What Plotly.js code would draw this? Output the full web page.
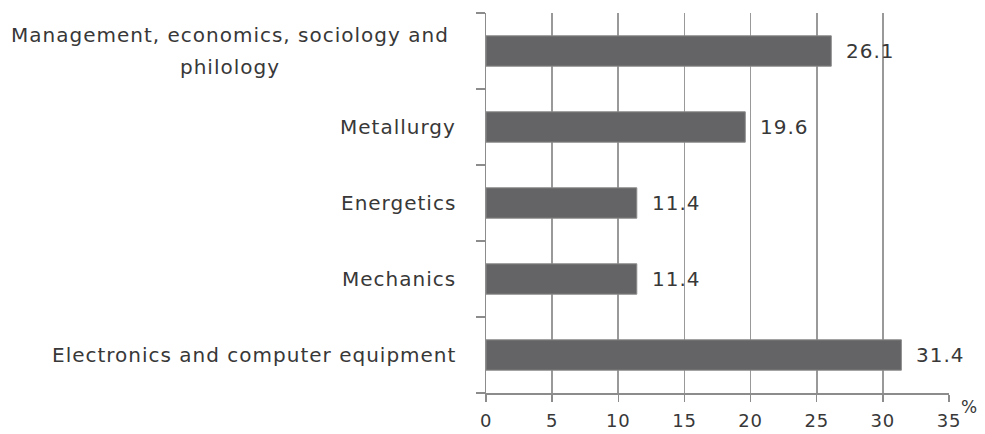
<!DOCTYPE html>
<html>
<head>
<meta charset="utf-8">
<script src="https://cdn.plot.ly/plotly-3.0.1.min.js"></script>
<style>
  html, body { margin: 0; padding: 0; background: #fff; }
  #chart { width: 985px; height: 434px; }
  .annotation-text { letter-spacing: 1px; }
  .xtick text { letter-spacing: 0.8px; }
</style>
</head>
<body>
<div id="chart"></div>
<script>
// Fields of study, listed top to bottom, with their shares in percent
const categories = [
  "Management, economics, sociology and<br>philology",
  "Metallurgy",
  "Energetics",
  "Mechanics",
  "Electronics and computer equipment"
];
const values = [26.1, 19.6, 11.4, 11.4, 31.4];
const xTicks = [0, 5, 10, 15, 20, 25, 30, 35];
const unitLabel = "%";

const textColor = "#383838";
const fontFamily = "DejaVu Sans, sans-serif";
const labelSize = 20;

const bar = {
  type: "bar",
  orientation: "h",
  y: categories.map((c, i) => i),
  x: values,
  width: 0.4,
  marker: { color: "#646466", line: { color: "#8c8c8c", width: 1 } },
  hoverinfo: "skip"
};

// Category names beside the axis; wrapped names get one centred row per line
const catLabels = [];
categories.forEach((c, i) => {
  const lines = c.split("<br>");
  if (lines.length === 1) {
    catLabels.push({
      xref: "paper", yref: "y", x: 0, y: i,
      xanchor: "right", yanchor: "middle", xshift: -28,
      text: c, showarrow: false,
      font: { family: fontFamily, size: labelSize, color: textColor }
    });
  } else {
    const step = 32;
    lines.forEach((ln, k) => {
      catLabels.push({
        xref: "paper", yref: "y", x: 0, y: i,
        xanchor: "center", yanchor: "middle",
        xshift: -256,
        yshift: ((lines.length - 1) / 2 - k) * step,
        text: ln, showarrow: false,
        font: { family: fontFamily, size: labelSize, color: textColor }
      });
    });
  }
});

// Value labels beside each bar
const valLabels = values.map((v, i) => ({
  xref: "x", yref: "y",
  x: v, y: i,
  xanchor: "left", yanchor: "middle",
  xshift: 13,
  text: v.toFixed(1),
  showarrow: false,
  font: { family: fontFamily, size: labelSize, color: textColor }
}));

const unitNote = {
  xref: "paper", yref: "paper",
  x: 1, y: 0,
  xanchor: "left", yanchor: "top",
  xshift: 10, yshift: -2,
  text: unitLabel,
  showarrow: false,
  font: { family: fontFamily, size: 17, color: textColor }
};

const layout = {
  width: 985, height: 434,
  margin: { l: 486, r: 36, t: 13, b: 41, pad: 0 },
  paper_bgcolor: "#ffffff",
  plot_bgcolor: "#ffffff",
  showlegend: false,
  font: { family: fontFamily, color: textColor },
  xaxis: {
    range: [0, 35],
    tickvals: xTicks,
    ticktext: xTicks.map(String),
    showgrid: true,
    gridcolor: "#999999",
    gridwidth: 1.6,
    zeroline: false,
    showline: true,
    linecolor: "#8c8c8c",
    linewidth: 1.5,
    ticks: "outside",
    ticklen: 7,
    tickwidth: 1.5,
    tickcolor: "#8c8c8c",
    ticklabelstandoff: 4,
    tickfont: { family: fontFamily, size: 18, color: textColor },
    fixedrange: true
  },
  yaxis: {
    type: "linear",
    range: [categories.length - 0.5, -0.5],
    tickvals: [-0.5, 0.5, 1.5, 2.5, 3.5, 4.5],
    showticklabels: false,
    showgrid: false,
    zeroline: false,
    showline: true,
    linecolor: "#8c8c8c",
    linewidth: 1.5,
    ticks: "outside",
    ticklen: 9,
    tickwidth: 1.5,
    tickcolor: "#8c8c8c",
    fixedrange: true
  },
  annotations: [...catLabels, ...valLabels, unitNote]
};

Plotly.newPlot("chart", [bar], layout, { displayModeBar: false, staticPlot: true });
</script>
</body>
</html>
